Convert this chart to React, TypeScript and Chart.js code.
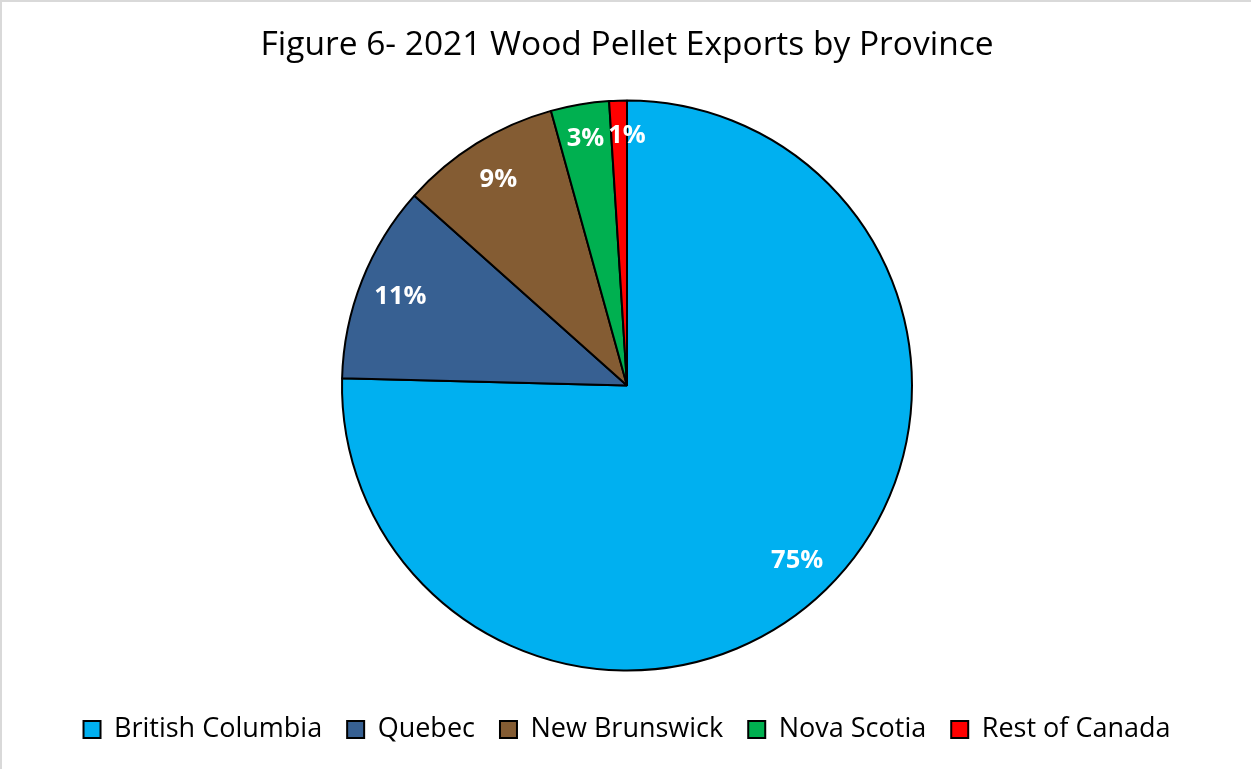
import React, { useEffect, useRef } from "react";
import { Chart, registerables } from "chart.js";

Chart.register(...registerables);

const titleText = "Figure 6- 2021 Wood Pellet Exports by Province";
const provinces = ["British Columbia", "Quebec", "New Brunswick", "Nova Scotia", "Rest of Canada"];
const shares = [75.4, 11.2, 9.1, 3.3, 1.0];
const shareLabels = ["75%", "11%", "9%", "3%", "1%"];
const sliceColors = ["#00B0F0", "#376092", "#845C33", "#00B050", "#FF0000"];

const labelPlugin = {
  id: "sliceLabels",
  afterDatasetsDraw(chart: any) {
    const ctx = chart.ctx;
    const meta = chart.getDatasetMeta(0);
    ctx.save();
    ctx.fillStyle = "#FFFFFF";
    ctx.font = "bold 25.5px 'Open Sans'";
    ctx.textAlign = "center";
    ctx.textBaseline = "middle";
    let prev: { x: number; y: number; w: number } | null = null;
    meta.data.forEach((arc: any, i: number) => {
      const p = arc.getProps(["x", "y", "startAngle", "endAngle", "outerRadius"], true);
      const mid = (p.startAngle + p.endAngle) / 2;
      const r = p.outerRadius * (i >= 3 ? 0.88 : 0.855);
      let x = p.x + Math.cos(mid) * r;
      const y = p.y + Math.sin(mid) * r + 1;
      const w = ctx.measureText(shareLabels[i]).width;
      if (prev && Math.abs(prev.y - y) < 24) {
        const minX = prev.x + prev.w / 2 + 4 + w / 2;
        if (x < minX) x = minX;
      }
      ctx.fillText(shareLabels[i], x, y);
      prev = { x, y, w };
    });
    ctx.restore();
  },
};

export default function App() {
  const ref = useRef<HTMLCanvasElement | null>(null);
  useEffect(() => {
    if (!ref.current) return;
    const chart = new Chart(ref.current, {
      type: "pie",
      data: {
        labels: provinces,
        datasets: [
          {
            data: shares,
            backgroundColor: sliceColors,
            borderColor: "#000000",
            borderWidth: 2,
            radius: 285,
          },
        ],
      },
      options: {
        animation: false,
        responsive: false,
        maintainAspectRatio: false,
        layout: { padding: { left: 3, right: 0, top: 0, bottom: 16 } },
        plugins: {
          title: {
            display: true,
            text: titleText,
            color: "#000000",
            font: { family: "'Open Sans'", size: 33.5, weight: "normal" },
            padding: { top: 25.6, bottom: 14.2 },
          },
          legend: {
            position: "bottom",
            labels: {
              color: "#000000",
              font: { family: "'Open Sans'", size: 27 },
              boxWidth: 17,
              boxHeight: 17,
              padding: 25,
            },
          },
          tooltip: { enabled: false },
        },
      },
      plugins: [labelPlugin],
    });
    return () => chart.destroy();
  }, []);

  return (
    <div style={{ position: "fixed", left: 0, top: 0, width: 1251, height: 769, background: "#fff" }}>
      <canvas ref={ref} width={1251} height={769} style={{ position: "absolute", left: 0, top: 0 }} />
      <div
        style={{
          position: "absolute",
          left: 0,
          top: 0,
          width: 1260,
          height: 780,
          borderLeft: "2px solid #D9D9D9",
          borderTop: "2px solid #D9D9D9",
          pointerEvents: "none",
          boxSizing: "border-box",
        }}
      />
    </div>
  );
}
